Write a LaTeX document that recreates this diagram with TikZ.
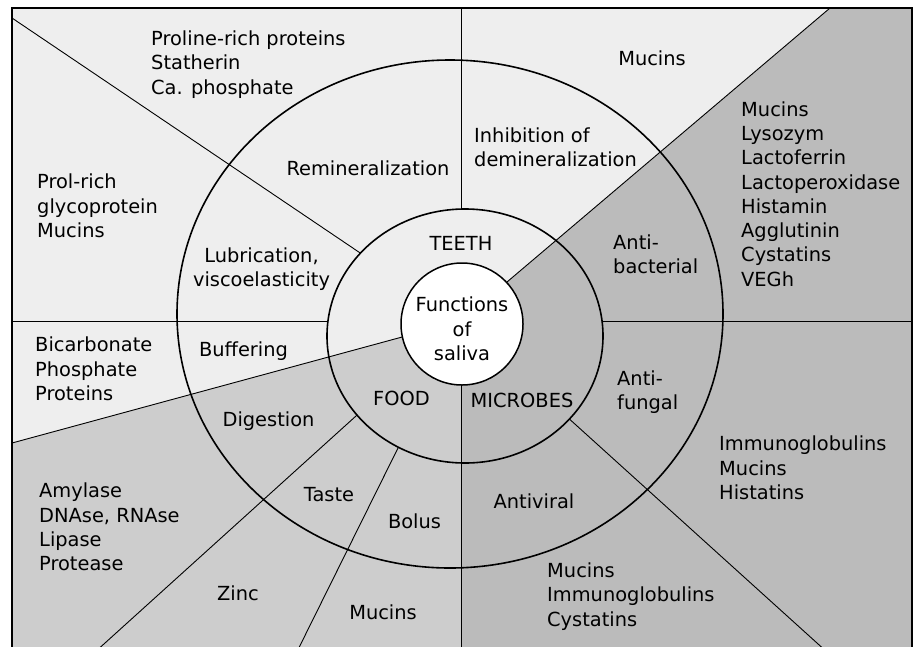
\documentclass[tikz,border=0pt]{standalone}
\usepackage{fontspec}
\setmainfont{DejaVu Sans}
\definecolor{teethc}{HTML}{EEEEEE}
\definecolor{foodc}{HTML}{CDCDCD}
\definecolor{microc}{HTML}{BBBBBB}
\begin{document}
\begin{tikzpicture}[x=1pt,y=-1pt,
  lbl/.style={font=\fontsize{19.4}{24.3}\selectfont, inner sep=0pt, text=black},
  one/.style={lbl, text height=14.1pt, text depth=0pt},
  blockl/.style={lbl, align=left, anchor=west},
  blockc/.style={lbl, align=center},
  ray/.style={line width=0.9pt},
  ring/.style={line width=1.6pt},
]
\useasboundingbox (0,0) rectangle (915,646);
\clip (0,0) rectangle (915,646);
% centre of the rays and frame points
\coordinate (C) at (461,321);
\coordinate (TL) at (12,8);
\coordinate (BL) at (12,700);
\coordinate (p1) at (12,18);
\coordinate (p2) at (461,8);
\coordinate (p3) at (830,8);
\coordinate (pL) at (12,321);
\coordinate (pR) at (912,321);
\coordinate (p6) at (12,443);
\coordinate (b1) at (42,700);
\coordinate (b2) at (273,700);
\coordinate (b4) at (461,700);
\coordinate (b5) at (880,700);
% region fills
\fill[microc] (12,8) rectangle (912,700);
\fill[teethc] (TL) -- (p3) -- (C) -- (p6) -- cycle;
\fill[foodc] (p6) -- (C) -- (b4) -- (BL) -- cycle;
% outer rays
\draw[ray] (p1) -- (C);
\draw[ray] (p2) -- (C);
\draw[ray] (pL) -- (C);
\draw[ray] (C) -- (pR);
\draw[ray] (b1) -- (C);
\draw[ray] (b2) -- (C);
\draw[ray] (b5) -- (C);
% refill inner ring
\begin{scope}
\clip (465,336) ellipse [x radius=138pt, y radius=127pt];
\fill[microc] (12,8) rectangle (912,700);
\fill[teethc] (TL) -- (p3) -- (C) -- (p6) -- cycle;
\fill[foodc] (p6) -- (C) -- (b4) -- (BL) -- cycle;
\end{scope}
% full rays
\draw[ray] (p3) -- (C);
\draw[ray] (p6) -- (C);
\draw[ray] (b4) -- (C);
% rings
\draw[ring] (450,314) ellipse [x radius=273pt, y radius=254pt];
\draw[ring] (465,336) ellipse [x radius=138pt, y radius=127pt];
\node[circle, draw, fill=white, line width=1.5pt, minimum size=122pt, inner sep=0pt] (fn) at (462,324) {};
% frame
\draw[line width=2pt] (12,700) -- (12,8) -- (912,8) -- (912,700);
% texts
\node[blockc] (tfn) at (462,329) {Functions\\of\\saliva};
\node[one] (tteeth) at (461,243) {TEETH};
\node[one] (tfood) at (401.5,398) {FOOD};
\node[one] (tmic) at (522,400) {MICROBES};
\node[blockl] (tpro) at (151,64.5) {Proline-rich proteins\\Statherin\\Ca. phosphate};
\node[one] (trem) at (368,168) {Remineralization};
\node[blockl] (tprol) at (37,206) {Prol-rich\\glycoprotein\\Mucins};
\node[blockc] (tlub) at (261.5,269) {Lubrication,\\viscoelasticity};
\node[one] (tmuc1) at (652,58) {Mucins};
\node[blockl] (tinh) at (474,147) {Inhibition of\\demineralization};
\node[blockl] (tlist) at (741,194) {Mucins\\Lysozym\\Lactoferrin\\Lactoperoxidase\\Histamin\\Agglutinin\\Cystatins\\VEGh};
\node[blockl] (tantib) at (613,254) {Anti-\\bacterial};
\node[blockl] (tbic) at (35,369) {Bicarbonate\\Phosphate\\Proteins};
\node[one] (tbuf) at (243.5,349) {Buffering};
\node[one] (tdig) at (268.5,419) {Digestion};
\node[blockl] (tamy) at (39,527) {Amylase\\DNAse, RNAse\\Lipase\\Protease};
\node[one] (ttaste) at (329,494) {Taste};
\node[one] (tbolus) at (414.5,521) {Bolus};
\node[one] (tzinc) at (238,593) {Zinc};
\node[one] (tmuc2) at (383,612) {Mucins};
\node[blockl] (tantif) at (617,392) {Anti-\\fungal};
\node[blockl] (timm) at (719,468) {Immunoglobulins\\Mucins\\Histatins};
\node[one] (tantiv) at (534,501) {Antiviral};
\node[blockl] (tmic2) at (547,596.5) {Mucins\\Immunoglobulins\\Cystatins};
\end{tikzpicture}
\end{document}
